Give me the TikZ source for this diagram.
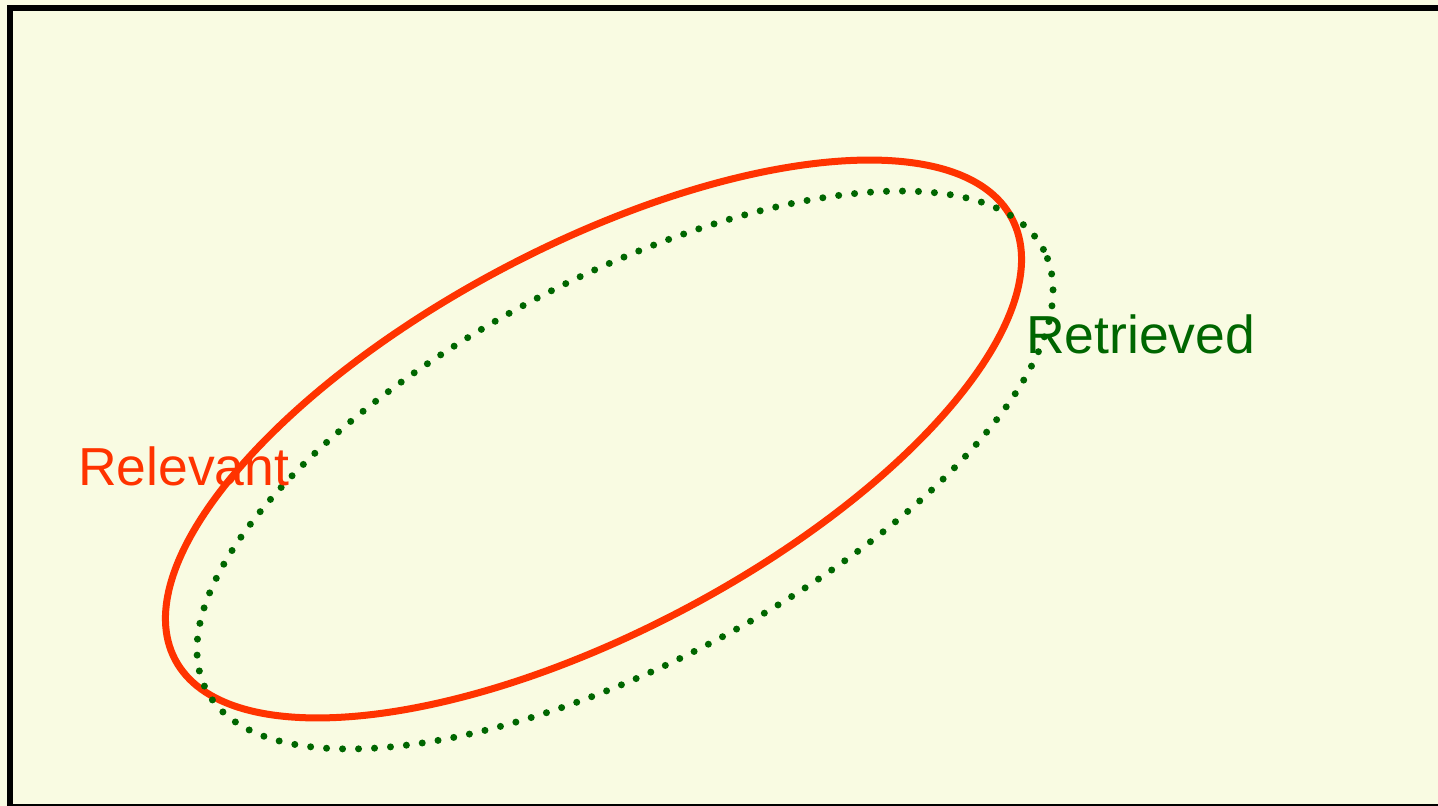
\documentclass[tikz,border=0pt]{standalone}
\usepackage{fontspec}
\setmainfont{Liberation Sans}
\definecolor{bgyellow}{HTML}{F9FBE2}
\definecolor{relred}{HTML}{FF3300}
\definecolor{retgreen}{HTML}{006600}
\begin{document}
\begin{tikzpicture}[x=1pt,y=1pt,
  relset/.style={draw=relred, line width=7pt},
  retset/.style={draw=retgreen, line width=7pt, line cap=round, dash pattern=on 0pt off 16pt},
  lbl/.style={anchor=base west, inner sep=0pt, font=\fontsize{53.5}{60}\selectfont}]
\useasboundingbox (0,0) rectangle (1438,806);
\fill[bgyellow] (0,0) rectangle (1438,806);
\draw[line width=6pt] (1450,-1.5) -- (10,-1.5) -- (10,798) -- (1450,798);
\draw[relset] (593.5,367) ellipse[x radius=473, y radius=193, rotate=27.8];
\draw[retset] (625,336) ellipse[x radius=473, y radius=193, rotate=27.8];
\node[lbl, text=relred] (rel) at (78,320) {Relevant};
\node[lbl, text=retgreen] (ret) at (1026,452) {Retrieved};
\end{tikzpicture}
\end{document}
